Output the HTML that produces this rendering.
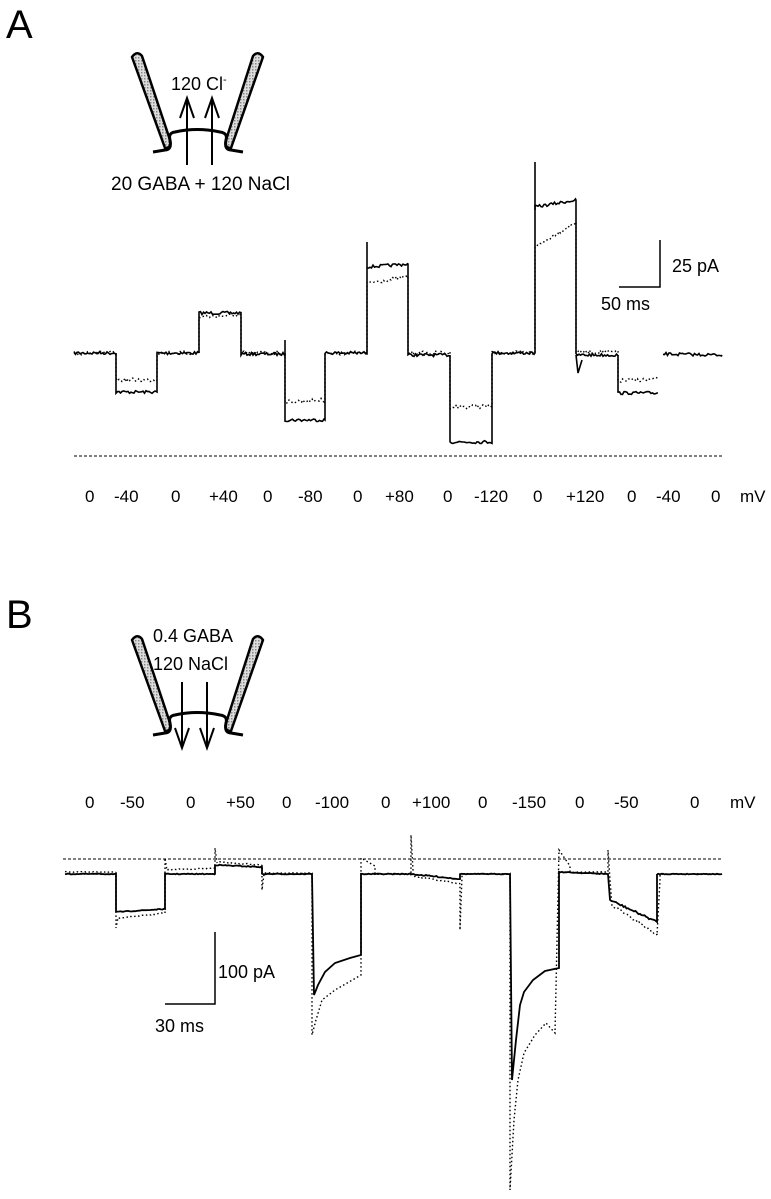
<!DOCTYPE html>
<html><head><meta charset="utf-8"><style>
html,body{margin:0;padding:0;background:#fff;}
svg{display:block;}
text{font-family:"Liberation Sans",Arial,sans-serif;fill:#000;}
</style></head><body>
<svg id="s" width="771" height="1199" viewBox="0 0 771 1199" xmlns="http://www.w3.org/2000/svg">
<defs>
<pattern id="dots" width="3" height="3" patternUnits="userSpaceOnUse">
<rect width="3" height="3" fill="#ddd"/><rect width="1.5" height="1.5" fill="#888"/>
</pattern>
</defs>
<text x="6" y="38" font-size="40">A</text>
<text x="6" y="628" font-size="40">B</text>

<!-- Pipette A -->
<g id="pipA">
<path d="M132 57 Q137 50 142 56 L170 140 Q172 148 165 148 Z" fill="url(#dots)" stroke="#000" stroke-width="2.5" stroke-linejoin="round"/>
<path d="M263 57 Q258 50 253 56 L226 140 Q224 148 231 148 Z" fill="url(#dots)" stroke="#000" stroke-width="2.5" stroke-linejoin="round"/>
<path d="M153 152 L165 150 Q172 150 170 140 Q168 133 175 132 Q197 127 220 132 Q228 133 226 140 Q224 150 231 150 L243 152" fill="none" stroke="#000" stroke-width="3"/>
</g>
<text x="171" y="90" font-size="18">120 Cl<tspan font-size="11" dy="-7">-</tspan></text>
<g stroke="#000" stroke-width="2" fill="none">
<line x1="187" y1="165" x2="187" y2="100"/><line x1="212" y1="165" x2="212" y2="100"/>
<path d="M180 118 L187 98 L194 118"/><path d="M205 118 L212 98 L219 118"/>
</g>
<text x="111" y="190" font-size="19">20 GABA + 120 NaCl</text>

<!-- Pipette B -->
<use href="#pipA" transform="translate(0,583)"/>
<text x="153" y="642" font-size="18">0.4 GABA</text>
<text x="153" y="670" font-size="18">120 NaCl</text>
<g stroke="#000" stroke-width="2" fill="none">
<line x1="182" y1="682" x2="182" y2="746"/><line x1="207" y1="682" x2="207" y2="746"/>
<path d="M175 728 L182 748 L189 728"/><path d="M200 728 L207 748 L214 728"/>
</g>

<!-- Scale bars -->
<g stroke="#000" stroke-width="1.5" fill="none">
<path d="M660 240 L660 287 L619 287"/>
<path d="M215 932 L215 1004 L165 1004"/>
</g>
<text x="672" y="272" font-size="18">25 pA</text>
<text x="601" y="310" font-size="18">50 ms</text>
<text x="218" y="978" font-size="18">100 pA</text>
<text x="155" y="1032" font-size="18">30 ms</text>

<line x1="74" y1="456" x2="722" y2="456" stroke="#000" stroke-width="1" stroke-dasharray="3,2"/>
<line x1="63" y1="859" x2="722" y2="859" stroke="#000" stroke-width="1" stroke-dasharray="3,2"/>

<g font-size="17">
<text x="85" y="502">0</text><text x="114" y="502">-40</text><text x="171" y="502">0</text><text x="209" y="502">+40</text>
<text x="263" y="502">0</text><text x="298" y="502">-80</text><text x="353" y="502">0</text><text x="385" y="502">+80</text>
<text x="443" y="502">0</text><text x="474" y="502">-120</text><text x="533" y="502">0</text><text x="566" y="502">+120</text>
<text x="627" y="502">0</text><text x="656" y="502">-40</text><text x="711" y="502">0</text><text x="740" y="502">mV</text>
<text x="85" y="808">0</text><text x="120" y="808">-50</text><text x="186" y="808">0</text><text x="226" y="808">+50</text>
<text x="282" y="808">0</text><text x="315" y="808">-100</text><text x="381" y="808">0</text><text x="412" y="808">+100</text>
<text x="478" y="808">0</text><text x="512" y="808">-150</text><text x="575" y="808">0</text><text x="614" y="808">-50</text>
<text x="690" y="808">0</text><text x="730" y="808">mV</text>
</g>
<g id="tr"></g>
</svg>
<script>
var seed=7;function r(){seed=(seed*16807)%2147483647;return seed/2147483647-0.5;}
var NS="http://www.w3.org/2000/svg",tr=document.getElementById("tr");
function seg(pts,x0,x1,y0,y1,n){for(var x=x0;x<=x1;x+=1.5){var t=(x-x0)/(x1-x0||1);pts.push([x,y0+(y1-y0)*t+r()*n]);}pts.push([x1,y1]);}
function draw(pts,dash,w){var p=document.createElementNS(NS,"polyline");p.setAttribute("points",pts.map(function(a){return a[0].toFixed(1)+","+a[1].toFixed(1)}).join(" "));p.setAttribute("fill","none");p.setAttribute("stroke","#000");p.setAttribute("stroke-width",w||1.6);if(dash)p.setAttribute("stroke-dasharray",dash);tr.appendChild(p);}
// Panel A
var A=[[74,116,353,353],[116,157,392,392],[157,199,353,353],[199,241,313,313],[241,285,354,354],[285,325,420,420],[325,367,353,353],[367,408,267,264],[408,450,355,355],[450,492,442,442],[492,535,353,353],[535,576,207,200],[576,618,355,355],[618,658,393,393]];
var Ad=[[74,116,353,353],[116,157,380,380],[157,199,353,353],[199,241,317,315],[241,285,353,353],[285,325,402,400],[325,367,353,353],[367,408,283,277],[408,450,353,353],[450,492,407,406],[492,535,353,353],[535,576,247,222],[576,618,352,352],[618,658,381,379]];
var p=[];A.forEach(function(s){seg(p,s[0],s[1],s[2],s[3],3)});
draw(p);
draw([[285,340],[285,356]]);draw([[367,242],[367,268]]);draw([[535,162],[535,210]]);draw([[576,355],[578,373],[582,360]]);
var d=[];Ad.forEach(function(s){seg(d,s[0],s[1],s[2],s[3],4)});draw(d,"1.5,2.5",1.4);
var p2=[];seg(p2,663,722,354,355,3);draw(p2);
// Panel B
var B=[];
seg(B,65,116,874,874,0.8);seg(B,116,165,912,909,0.8);seg(B,165,215,874,874,0.8);seg(B,215,262,865,867,1);
seg(B,262,312,874,874,0.8);
B.push([312,874],[314,995],[318,985],[325,972],[335,963],[350,958],[361,955],[361,874]);
seg(B,361,411,874,874,0.8);seg(B,411,460,874,879,1.2);seg(B,460,510,874,874,0.6);
B.push([510,874],[512,1080],[516,1040],[520,1005],[524,992],[533,980],[545,971],[559,968],[559,872]);
seg(B,559,608,872,874,0.8);B.push([608,874]);seg(B,610,657,900,922,2);B.push([657,874]);seg(B,657,722,874,874,0.8);
draw(B,null,1.8);
var D=[];
seg(D,65,116,872,872,0.8);D.push([116,928]);seg(D,118,165,918,913,1);D.push([165,858]);seg(D,167,215,870,868,1);D.push([215,848],[217,863]);
seg(D,217,262,862,865,1);D.push([262,890],[264,874]);seg(D,264,312,873,873,0.6);
D.push([312,1035],[316,1020],[322,1000],[335,990],[361,975],[361,858],[375,866]);seg(D,375,411,874,874,0.8);D.push([411,835],[413,870]);
seg(D,413,460,876,884,1.5);D.push([460,930],[462,876]);seg(D,462,510,874,874,0.6);
D.push([510,1190],[514,1120],[518,1080],[524,1053],[535,1035],[546,1023],[555,1033],[559,850],[570,866]);seg(D,570,608,872,872,0.6);
D.push([608,850],[610,880]);seg(D,612,657,905,935,2.5);D.push([660,880]);seg(D,660,722,874,874,0.6);
draw(D,"1.5,2.5",1.4);
</script>
</body></html>
